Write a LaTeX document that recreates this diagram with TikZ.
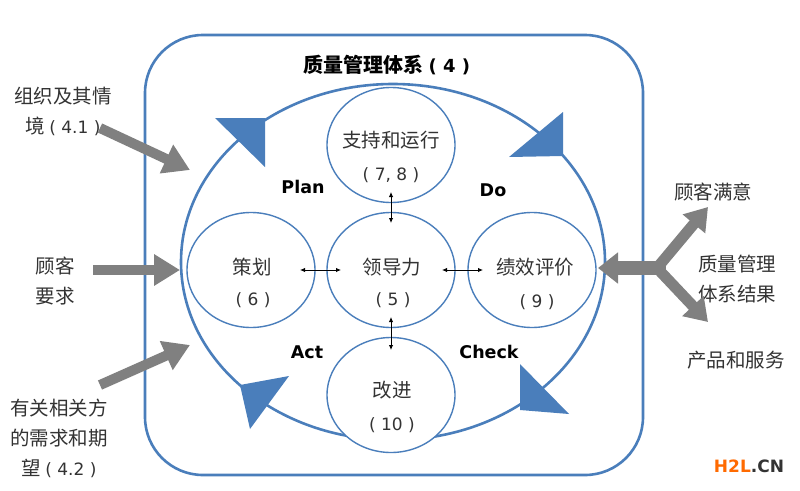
\documentclass[tikz,border=0pt]{standalone}
\usepackage{fontspec}
\setmainfont{Noto Sans CJK SC}
\newfontfamily\latinb{DejaVu Sans}
\newcommand\pnum[1]{{\latinb\fontsize{17}{30}\selectfont #1}}
\usetikzlibrary{arrows.meta,shapes.geometric}
\definecolor{qblue}{HTML}{4A7EBB}
\definecolor{qgray}{HTML}{808080}
\definecolor{qtext}{HTML}{333333}
\definecolor{h2lorange}{HTML}{FF6A00}
\definecolor{h2ldark}{HTML}{333333}
\begin{document}
\begin{tikzpicture}[x=1pt,y=-1pt,
  cjk/.style={font=\fontsize{19.5}{30}\selectfont, align=center, inner sep=0pt, text=qtext},
  pdca/.style={font=\latinb\bfseries\fontsize{17.5}{17.5}\selectfont, inner sep=0pt, text=black},
  part/.style={ellipse, draw=qblue, line width=1.4pt, fill=white, minimum width=128pt, minimum height=115pt, inner sep=0pt},
  garrow/.style={draw=qgray, line width=10pt, -{Triangle[length=26pt,width=30pt]}},
  link/.style={black, line width=0.9pt, {Latex[length=5pt,width=4.5pt]}-{Latex[length=5pt,width=4.5pt]}},
  cyclehead/.style={fill=qblue}
]
\fill[white] (0,0) rectangle (800,490);
\useasboundingbox (0,0) rectangle (800,490);

% outer frame
\draw[qblue, line width=2.6pt, rounded corners=58pt] (145,35) rectangle (643,475);
\node[font=\bfseries\fontsize{20}{20}\selectfont, inner sep=0pt, text=black] (title) at (387,65) {质量管理体系 {\latinb\bfseries\fontsize{18}{20}\selectfont ( 4 )}};

% PDCA cycle
\draw[qblue, line width=2.6pt] (393,262) ellipse [x radius=212pt, y radius=178pt];
\fill[cyclehead] (215,118) -- (265,118) -- (265,167) -- cycle;
\fill[cyclehead] (563,112) -- (563,156) -- (509,157) -- cycle;
\fill[cyclehead] (520,364) -- (520,410) -- (569,414) -- cycle;
\fill[cyclehead] (240,385) -- (289,376) -- (250,429) -- cycle;

% parts
\node[part] (sup) at (391,145) {};
\node[part] (pln) at (251,270) {};
\node[part] (lead) at (391,270) {};
\node[part] (eval) at (532,270) {};
\node[part] (imp) at (391,395) {};

\node[cjk] (supt) at (391,140) {支持和运行};
\node[cjk] (supn) at (391,175) {\pnum{( 7, 8 )}};
\node[cjk] (plnt) at (252,267) {策划};
\node[cjk] (plnn) at (253,300) {\pnum{( 6 )}};
\node[cjk] (leadt) at (392,267) {领导力};
\node[cjk] (leadn) at (393,300) {\pnum{( 5 )}};
\node[cjk] (evalt) at (535,267) {绩效评价};
\node[cjk] (evaln) at (537,302) {\pnum{( 9 )}};
\node[cjk] (impt) at (392,390) {改进};
\node[cjk] (impn) at (392,425) {\pnum{( 10 )}};

% links
\coordinate (v1a) at (391,192); \coordinate (v1b) at (391,223);
\coordinate (v2a) at (391,317); \coordinate (v2b) at (391,350);
\coordinate (h1a) at (300,270); \coordinate (h1b) at (341,270);
\coordinate (h2a) at (442,270); \coordinate (h2b) at (483,270);
\draw[link] (v1a) -- (v1b);
\draw[link] (v2a) -- (v2b);
\draw[link] (h1a) -- (h1b);
\draw[link] (h2a) -- (h2b);

\node[pdca] (p) at (303,187) {Plan};
\node[pdca] (d) at (493,190) {Do};
\node[pdca] (a) at (307,352) {Act};
\node[pdca] (c) at (489,352) {Check};

% inputs
\node[cjk] (ctx) at (63,111) {组织及其情\\境 \pnum{( 4.1 )}};
\node[cjk] (cust) at (55,281) {顾客\\要求};
\node[cjk] (party) at (59,438) {有关相关方\\的需求和期\\望 \pnum{( 4.2 )}};
\coordinate (c1s) at (100,128); \coordinate (c1e) at (190,170);
\coordinate (c2s) at (93,270);  \coordinate (c2e) at (180,270);
\coordinate (c3s) at (100,385); \coordinate (c3e) at (190,345);
\draw[garrow] (c1s) -- (c1e);
\draw[garrow] (c2s) -- (c2e);
\draw[garrow] (c3s) -- (c3e);

% outputs
\node[cjk] (sat) at (713,192) {顾客满意};
\node[cjk] (res) at (737,279) {质量管理\\体系结果};
\node[cjk] (prod) at (736,360) {产品和服务};
\coordinate (rj) at (666,268); \coordinate (rin) at (598,268);
\coordinate (rb) at (657,268);
\coordinate (rup) at (708,207); \coordinate (rdn) at (708,322);
\draw[garrow, line width=14pt, -{Triangle[length=20pt,width=30pt]}] (rj) -- (rin);
\draw[garrow, line width=11pt, -{Triangle[length=22pt,width=28pt]}] (rb) -- (rup);
\draw[garrow, line width=11pt, -{Triangle[length=22pt,width=28pt]}] (rb) -- (rdn);

\node[font=\latinb\bfseries\fontsize{17}{17}\selectfont, inner sep=0pt] (wm) at (749,466) {\textcolor{h2lorange}{H2L}\textcolor{h2ldark}{.CN}};
\end{tikzpicture}
\end{document}
